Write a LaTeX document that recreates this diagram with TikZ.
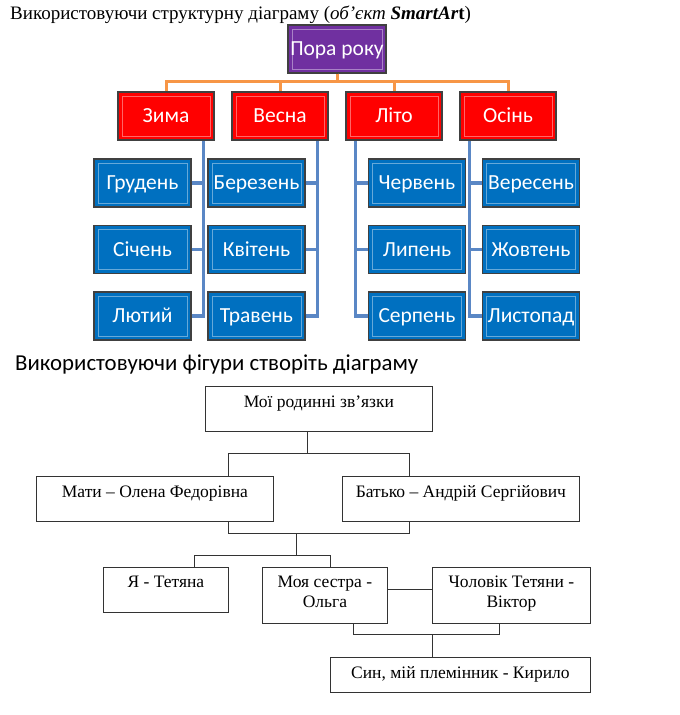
\documentclass[tikz,border=0pt]{standalone}
\usepackage{fontspec}
\setmainfont{Liberation Serif}
\newfontfamily\carlito{Carlito}
\usepackage{xcolor}
\usetikzlibrary{positioning}
\definecolor{smartpurple}{HTML}{7030A0}
\definecolor{smartred}{HTML}{FF0000}
\definecolor{smartblue}{HTML}{0070C0}
\definecolor{linkorange}{HTML}{F79646}
\definecolor{linkblue}{HTML}{5A87C5}
\tikzset{
    bevelbox/.style={draw=black!75, line width=1.2pt, inner sep=0pt, text=white,
        font=\carlito\fontsize{21.5}{25}\selectfont, text height=13.5pt, text depth=0pt,
        path picture={\draw[white, opacity=0.4, line width=1pt]
            ([shift={(4pt,-4pt)}]path picture bounding box.north west) rectangle
            ([shift={(-4pt,4pt)}]path picture bounding box.south east);}},
    topbox/.style={bevelbox, fill=smartpurple, minimum width=98, minimum height=48},
    seasonbox/.style={bevelbox, fill=smartred, minimum width=96, minimum height=48},
    monthbox/.style={bevelbox, fill=smartblue, minimum width=97, minimum height=48},
    orangelink/.style={draw=linkorange, line width=3pt},
    bluelink/.style={draw=linkblue, line width=3.2pt},
    familybox/.style={draw=black!80, line width=0.8pt, inner sep=0pt, anchor=north west,
        align=center, font=\fontsize{17.5}{20}\selectfont},
    familylink/.style={draw=black!80, line width=0.8pt}
}
\begin{document}
\begin{tikzpicture}[x=1pt, y=-1pt]
    \useasboundingbox (0,0) rectangle (680,715);

    \node[anchor=base west, inner sep=0pt, font=\fontsize{19}{22}\selectfont] (title1) at (10,19)
        {Використовуючи структурну діаграму (\textit{об’єкт \textbf{SmartAr}}\textbf{t})};

    % SmartArt
    \node[topbox] (pora) at (337,49) {Пора року};

    \node[seasonbox] (zyma)  at (166,116) {Зима};
    \node[seasonbox] (vesna) at (280,116) {Весна};
    \node[seasonbox] (lito)  at (394,116) {Літо};
    \node[seasonbox] (osin)  at (508,116) {Осінь};

    \node[monthbox] (hruden)   at (142.5,183)   {Грудень};
    \node[monthbox] (sichen)   at (142.5,249.5) {Січень};
    \node[monthbox] (lyutyi)   at (142.5,316)   {Лютий};
    \node[monthbox] (berezen)  at (256.5,183)   {Березень};
    \node[monthbox] (kviten)   at (256.5,249.5) {Квітень};
    \node[monthbox] (traven)   at (256.5,316)   {Травень};
    \node[monthbox] (cherven)  at (417,183)     {Червень};
    \node[monthbox] (lypen)    at (417,249.5)   {Липень};
    \node[monthbox] (serpen)   at (417,316)     {Серпень};
    \node[monthbox] (veresen)  at (531,183)     {Вересень};
    \node[monthbox] (zhovten)  at (531,249.5)   {Жовтень};
    \node[monthbox] (lystopad) at (531,316)     {Листопад};

    \foreach \s in {zyma, vesna, lito, osin}
        \draw[orangelink] (pora.south) -- ++(0,8) -| (\s.north);

    \foreach \m in {hruden, sichen, lyutyi}
        \draw[bluelink] (\m.east) -| ([xshift=-11pt]zyma.south east);
    \foreach \m in {berezen, kviten, traven}
        \draw[bluelink] (\m.east) -| ([xshift=-11pt]vesna.south east);
    \foreach \m in {cherven, lypen, serpen}
        \draw[bluelink] (\m.west) -| ([xshift=10pt]lito.south west);
    \foreach \m in {veresen, zhovten, lystopad}
        \draw[bluelink] (\m.west) -| ([xshift=10pt]osin.south west);

    \node[anchor=base west, inner sep=0pt, font=\carlito\fontsize{22.8}{26}\selectfont] (title2) at (15,370)
        {Використовуючи фігури створіть діаграму};

    % family tree
    \node[familybox, minimum width=227, text height=21pt, text depth=24pt] (rodyna)   at (205,386) {Мої родинні зв’язки};
    \node[familybox, minimum width=237, text height=21pt, text depth=24pt] (mati)     at (36,476)  {Мати – Олена Федорівна};
    \node[familybox, minimum width=237, text height=21pt, text depth=24pt] (batko)    at (342,476) {Батько – Андрій Сергійович};
    \node[familybox, minimum width=125, text height=20pt, text depth=25pt] (ya)       at (103,567) {Я - Тетяна};
    \node[familybox, minimum width=125, text height=40pt, text depth=16pt] (sestra)   at (262,567) {Моя сестра -\\Ольга};
    \node[familybox, minimum width=158, text height=40pt, text depth=16pt] (cholovik) at (432,567) {Чоловік Тетяни -\\Віктор};
    \node[familybox, minimum width=260, text height=21pt, text depth=14pt] (syn)      at (330,657) {Син, мій племінник - Кирило};

    \coordinate (parentsL) at (228,453);
    \coordinate (parentsM) at (307,453);
    \coordinate (parentsR) at (409,453);
    \coordinate (kidsL) at (228,533);
    \coordinate (kidsM) at (296,533);
    \coordinate (kidsR) at (409,533);
    \coordinate (sibsL) at (194,555);
    \coordinate (sibsM) at (296,555);
    \coordinate (sibsR) at (330,555);
    \coordinate (marriage) at (410,589);
    \coordinate (coupleL) at (353,634);
    \coordinate (coupleM) at (432,634);
    \coordinate (coupleR) at (499,634);

    \draw[familylink] (rodyna.south -| parentsM) -- (parentsM);
    \draw[familylink] (mati.north -| parentsL) -- (parentsL) -- (parentsR) -- (batko.north -| parentsR);
    \draw[familylink] (mati.south -| kidsL) -- (kidsL) -- (kidsR) -- (batko.south -| kidsR);
    \draw[familylink] (kidsM) -- (sibsM);
    \draw[familylink] (ya.north -| sibsL) -- (sibsL) -- (sibsR) -- (sestra.north -| sibsR);
    \draw[familylink] (sestra.east |- marriage) -- (cholovik.west |- marriage);
    \draw[familylink] (sestra.south -| coupleL) -- (coupleL) -- (coupleR) -- (cholovik.south -| coupleR);
    \draw[familylink] (coupleM) -- (syn.north -| coupleM);
\end{tikzpicture}
\end{document}
